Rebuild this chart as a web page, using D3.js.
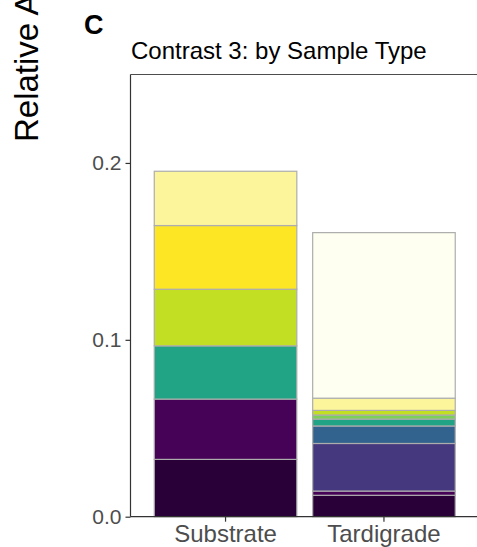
<!DOCTYPE html>
<html>
<head>
<meta charset="utf-8">
<script src="https://cdn.jsdelivr.net/npm/d3@7"></script>
<style>
  html, body { margin: 0; padding: 0; background: #fff; }
  svg { display: block; }
  text { font-family: "Liberation Sans", Arial, Helvetica, sans-serif; }
</style>
</head>
<body>
<svg id="chart" width="477" height="547"></svg>
<script>
// ---- data ----
const sampleTypes = ["Substrate", "Tardigrade"];
const taxa = ["Taxon 1", "Taxon 2", "Taxon 3", "Taxon 4", "Taxon 5",
              "Taxon 6", "Taxon 7", "Taxon 8", "Taxon 9", "Taxon 10"];
const taxaColors = ["#2a0038", "#450256", "#46387f", "#31638e", "#21a386",
                    "#7ccf5a", "#c2df23", "#fde725", "#fdf59b", "#fefff0"];
const substrateValues  = [0.0324, 0.0341, 0, 0, 0.0301, 0, 0.0320, 0.0360, 0.0307, 0];
const tardigradeValues = [0.0121, 0.0024, 0.0269, 0.0099, 0.0039, 0.0023, 0.0026, 0, 0.0069, 0.0936];
const yTicks = [0.0, 0.1, 0.2];
const yMax = 0.25;
const titleText = "Contrast 3: by Sample Type";
const panelTag = "C";
const yAxisTitle = "Relative Abundance";

// ---- build table ----
const rows = sampleTypes.map((s, i) => {
  const vals = i === 0 ? substrateValues : tardigradeValues;
  const r = { sample: s };
  taxa.forEach((t, j) => r[t] = vals[j]);
  return r;
});
const series = d3.stack().keys(taxa)(rows);

// ---- layout ----
const svg = d3.select("#chart");
const pLeft = 130.5, pRight = 479, pTop = 74.5, pBottom = 516.7;

const x = d3.scaleBand().domain(sampleTypes).range([pLeft, pRight])
  .paddingInner(0.1).paddingOuter(0.15);
const y = d3.scaleLinear().domain([0, yMax]).range([pBottom, pTop]);
const color = d3.scaleOrdinal().domain(taxa).range(taxaColors);

// bars
svg.append("g").selectAll("g").data(series).join("g")
  .attr("fill", d => color(d.key))
  .selectAll("rect").data(d => d.filter(p => p[1] - p[0] > 0)).join("rect")
  .attr("x", d => x(d.data.sample))
  .attr("width", x.bandwidth())
  .attr("y", d => y(d[1]))
  .attr("height", d => y(d[0]) - y(d[1]))
  .attr("stroke", "#adadad")
  .attr("stroke-width", 1.2);

// panel border top line
svg.append("line").attr("x1", pLeft).attr("x2", pRight).attr("y1", pTop).attr("y2", pTop)
  .attr("stroke", "#4d4d4d").attr("stroke-width", 1.2);

// y axis
const yAxis = svg.append("g").attr("transform", `translate(${pLeft},0)`)
  .call(d3.axisLeft(y).tickValues(yTicks).tickFormat(d3.format(".1f")).tickSize(5).tickPadding(4));
yAxis.select(".domain").attr("stroke", "#333").attr("stroke-width", 1.2).attr("d", `M0,${pTop}V${pBottom}`);
yAxis.selectAll(".tick line").attr("stroke", "#333").attr("stroke-width", 1.2);
yAxis.selectAll(".tick text").attr("fill", "#4d4d4d").attr("font-size", 21)
  .attr("font-family", "Liberation Sans, Arial, sans-serif");

// x axis
const xAxis = svg.append("g").attr("transform", `translate(0,${pBottom})`)
  .call(d3.axisBottom(x).tickSize(5).tickPadding(3));
xAxis.select(".domain").attr("stroke", "#333").attr("stroke-width", 1.2).attr("d", `M${pLeft},0H${pRight}`);
xAxis.selectAll(".tick line").attr("stroke", "#333").attr("stroke-width", 1.2);
xAxis.selectAll(".tick text").attr("fill", "#4d4d4d").attr("font-size", 24)
  .attr("font-family", "Liberation Sans, Arial, sans-serif");

// title
svg.append("text").attr("x", 131).attr("y", 58.5)
  .attr("font-size", 24).attr("fill", "#000").text(titleText);

// panel tag
svg.append("text").attr("x", 84).attr("y", 34)
  .attr("font-size", 27).attr("font-weight", "bold").attr("fill", "#000").text(panelTag);

// y axis title (clipped at the top)
svg.append("text").attr("transform", "translate(38,142) rotate(-90)")
  .attr("font-size", 33).attr("fill", "#000").text(yAxisTitle);
</script>
</body>
</html>
